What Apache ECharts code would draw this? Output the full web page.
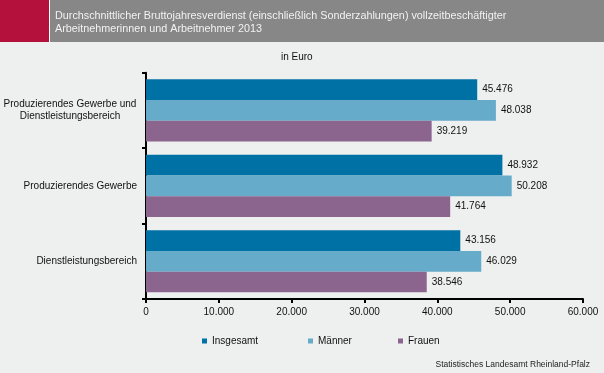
<!DOCTYPE html>
<html>
<head>
<meta charset="utf-8">
<script src="https://cdn.jsdelivr.net/npm/echarts@6/dist/echarts.min.js"></script>
<style>
html,body{margin:0;padding:0;background:#eef0ef;}
#c{width:604px;height:373px;}
</style>
</head>
<body>
<div id="c"></div>
<script>
var categories = ["Produzierendes Gewerbe und Dienstleistungsbereich", "Produzierendes Gewerbe", "Dienstleistungsbereich"];
var seriesNames = ["Insgesamt", "Männer", "Frauen"];
var insgesamt = [45476, 48932, 43156];
var maenner = [48038, 50208, 46029];
var frauen = [39219, 41764, 38546];
var xTicks = [0, 10000, 20000, 30000, 40000, 50000, 60000];
var colors = ["#0071a4", "#66abc9", "#8b658e"];

function de(v) {
  return String(Math.round(v)).replace(/\B(?=(\d{3})+(?!\d))/g, '.');
}

var chart = echarts.init(document.getElementById('c'), null, {renderer: 'canvas'});
var font = "Liberation Sans, Arial, sans-serif";
var values = [insgesamt, maenner, frauen];
var series = seriesNames.map(function (n, i) {
  return {
    name: n,
    type: 'bar',
    data: values[i],
    barGap: '0%',
    barCategoryGap: '17.6%',
    itemStyle: {color: colors[i]},
    label: {
      show: true, position: 'right', distance: 5,
      color: '#111', fontSize: 10, fontFamily: font,
      formatter: function (p) { return de(p.value); }
    }
  };
});

var legendPos = [202, 308, 398];
var legends = seriesNames.map(function (n, i) {
  return {
    data: [n], left: legendPos[i], top: 336, padding: 0,
    itemWidth: 5, itemHeight: 5, itemGap: 0,
    icon: 'rect',
    textStyle: {fontSize: 10, fontFamily: font, color: '#111'},
    selectedMode: false
  };
});

chart.setOption({
  backgroundColor: '#eef0ef',
  animation: false,
  graphic: [
    {type: 'rect', shape: {x: 0, y: 0, width: 49, height: 42}, style: {fill: '#b5113d'}},
    {type: 'rect', shape: {x: 49, y: 0, width: 1, height: 42}, style: {fill: '#ffffff'}},
    {type: 'rect', shape: {x: 50, y: 0, width: 554, height: 42}, style: {fill: '#878787'}},
    {type: 'text', left: 55, top: 10, style: {
      text: 'Durchschnittlicher Bruttojahresverdienst (einschließlich Sonderzahlungen) vollzeitbeschäftigter\nArbeitnehmerinnen und Arbeitnehmer 2013',
      fill: '#f2f2f2', font: '10.8px Liberation Sans, Arial, sans-serif', lineHeight: 12.5
    }},
    {type: 'text', left: 281, top: 52, style: {
      text: 'in Euro', fill: '#111', font: '10px Liberation Sans, Arial, sans-serif'
    }},
    {type: 'text', right: 14, top: 360, style: {
      text: 'Statistisches Landesamt Rheinland-Pfalz', fill: '#222', font: '8.5px Liberation Sans, Arial, sans-serif'
    }}
  ],
  legend: legends,
  grid: {left: 144, right: 21, top: 72.7, bottom: 74, containLabel: false},
  xAxis: {
    type: 'value', min: 0, max: 60000, interval: 10000,
    axisLine: {show: true, lineStyle: {color: '#000', width: 2}},
    axisTick: {show: true, length: 4, lineStyle: {color: '#000', width: 2}},
    splitLine: {show: false},
    axisLabel: {
      fontSize: 10, fontFamily: font, color: '#111', margin: 8,
      formatter: function (v) { return xTicks.indexOf(v) >= 0 ? de(v) : ''; }
    }
  },
  yAxis: {
    type: 'category', data: categories, inverse: true,
    axisLine: {show: true, lineStyle: {color: '#000', width: 2}},
    axisTick: {show: true, length: 4, lineStyle: {color: '#000', width: 2}},
    axisLabel: {
      fontSize: 10, fontFamily: font, color: '#111', margin: 9,
      formatter: function (v) {
        var idx = v.indexOf(' und ');
        if (idx >= 0) {
          return '{c|' + v.slice(0, idx + 4) + '}\n{c|' + v.slice(idx + 5) + '}';
        }
        return v;
      },
      rich: {c: {width: 134, align: 'center', fontSize: 10, fontFamily: font, color: '#111', lineHeight: 12}}
    }
  },
  series: series
});
</script>
</body>
</html>
